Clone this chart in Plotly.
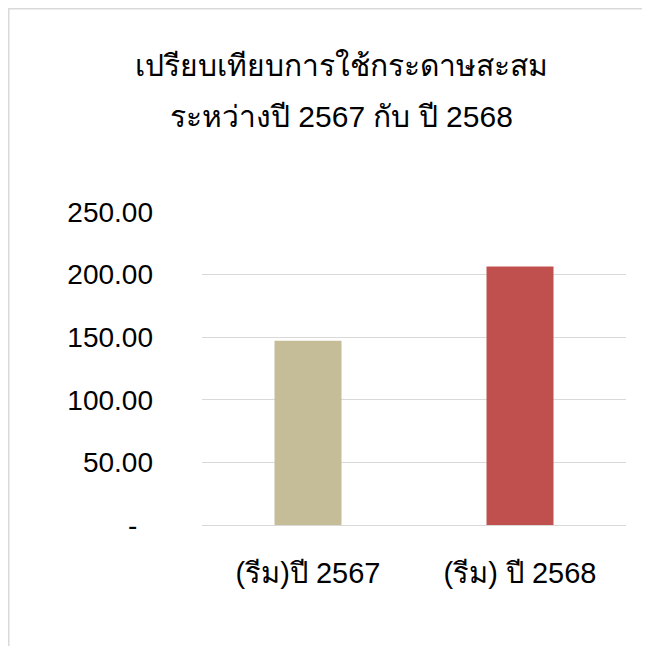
import plotly.graph_objects as go

categories = ["(รีม)ปี 2567", "(รีม) ปี 2568"]
values = [147.2, 206.4]
bar_colors = ["#C4BD97", "#C0504D"]
tick_values = [0, 50, 100, 150, 200, 250]
tick_labels = ["-\u00a0\u00a0", "50.00", "100.00", "150.00", "200.00", "250.00"]
title_lines = ["เปรียบเทียบการใช้กระดาษสะสม", "ระหว่างปี 2567 กับ ปี 2568"]

# The page places the figure 8px in from the top-left corner.
OFF = 8
W, H = 650 - OFF, 646 - OFF
L, R, T, B = 202 - OFF, 650 - 626, 212 - OFF, 646 - 525
pw, ph = W - L - R, H - T - B

def px_x(x):
    return (x - OFF - L) / pw

def px_y(y):
    return (H - B - (y - OFF)) / ph

font_family = "Liberation Sans, Arial, sans-serif"

fig = go.Figure(go.Bar(
    x=categories, y=values, marker=dict(color=bar_colors, line=dict(width=0)),
))

fig.update_layout(
    width=W, height=H,
    margin=dict(l=L, r=R, t=T, b=B),
    paper_bgcolor="white", plot_bgcolor="white",
    bargap=0.684,
    showlegend=False,
    font=dict(family=font_family, size=28, color="#000000"),
)
fig.update_xaxes(
    showgrid=False, showline=False, zeroline=False,
    ticks="", ticklabelstandoff=28,
    tickfont=dict(size=29),
)
fig.update_yaxes(
    range=[0, 250], tickvals=tick_values, ticktext=tick_labels,
    showgrid=True, gridcolor="#D9D9D9", gridwidth=1,
    zeroline=True, zerolinecolor="#D9D9D9", zerolinewidth=1,
    showline=False, ticks="", ticklabelstandoff=48,
    tickfont=dict(size=28),
)

for line, yc in zip(title_lines, [65, 117]):
    fig.add_annotation(
        text=line, xref="paper", yref="paper",
        x=px_x(341), y=px_y(yc), xanchor="center", yanchor="middle",
        showarrow=False, font=dict(size=30, color="#000000"),
    )

fig.add_shape(
    type="rect", xref="paper", yref="paper",
    x0=px_x(OFF + 0.75), x1=px_x(700), y0=px_y(OFF + 0.75), y1=px_y(700),
    line=dict(color="#D9D9D9", width=1.5), fillcolor="rgba(0,0,0,0)", layer="below",
)

fig.write_html("out.html")
